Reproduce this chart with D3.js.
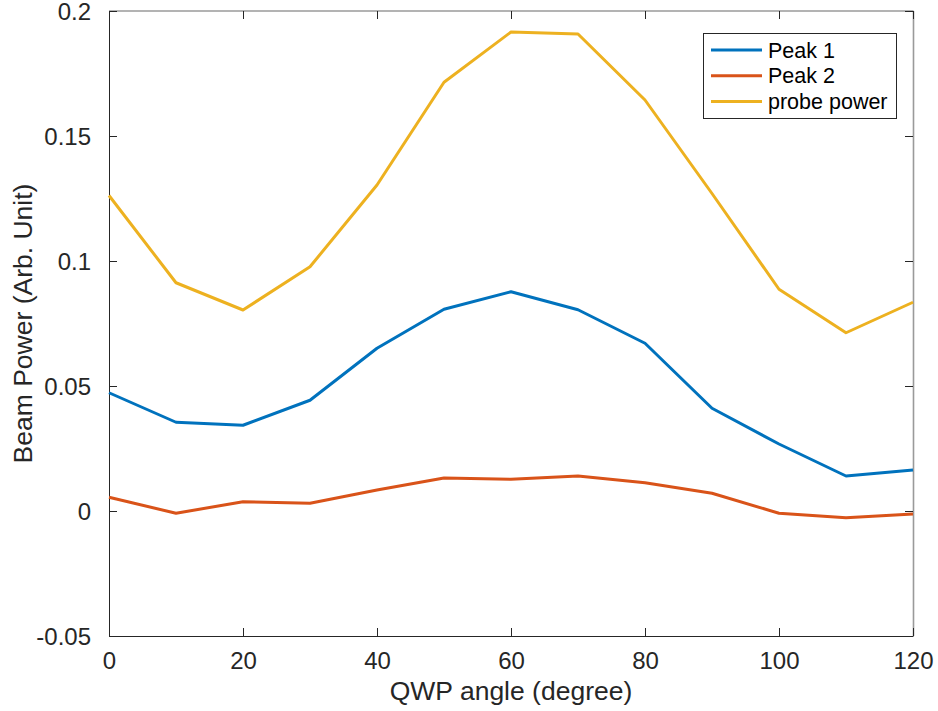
<!DOCTYPE html>
<html>
<head>
<meta charset="utf-8">
<script src="https://cdn.jsdelivr.net/npm/d3@7"></script>
<style>
  body { margin: 0; background: #fff; }
  svg { display: block; font-family: "Liberation Sans", Arial, Helvetica, sans-serif; }
</style>
</head>
<body>
<div id="chart-container"></div>
<script>
"use strict"

// QWP angle (degree)
const angles = [0, 10, 20, 30, 40, 50, 60, 70, 80, 90, 100, 110, 120];

// series values
const peak1 = [0.0473, 0.0355, 0.0343, 0.0443, 0.0651, 0.0807, 0.0877, 0.0805, 0.0671, 0.0411, 0.0268, 0.0140, 0.0164];
const peak2 = [0.0055, -0.0009, 0.0037, 0.0031, 0.0084, 0.0132, 0.0127, 0.0140, 0.0113, 0.0071, -0.0009, -0.0027, -0.0012];
const probePower = [0.1262, 0.0913, 0.0804, 0.0977, 0.1304, 0.1715, 0.1916, 0.1908, 0.1644, 0.1270, 0.0887, 0.0713, 0.0835];

const seriesNames = ["Peak 1", "Peak 2", "probe power"];
const seriesColors = ["#0072BD", "#D95319", "#EDB120"];

const xTicks = [0, 20, 40, 60, 80, 100, 120];
const yTicks = [-0.05, 0, 0.05, 0.1, 0.15, 0.2];
const yTickLabels = ["-0.05", "0", "0.05", "0.1", "0.15", "0.2"];

document.addEventListener('DOMContentLoaded', function(){
  drawChart();
});

function drawChart(){
  let svgWidth = 938;
  let svgHeight = 711;
  let left = 109, right = 913, top = 11, bottom = 636;
  let axisColor = "#262626";

  const svg = d3.select('#chart-container')
    .append('svg')
    .attr('width', svgWidth)
    .attr('height', svgHeight);

  let xScale = d3.scaleLinear()
    .domain([0, 120])
    .range([left, right]);

  let yScale = d3.scaleLinear()
    .domain([-0.05, 0.2])
    .range([bottom, top]);

  // box (top and right edges look lighter in the original)
  svg.append('line')
    .attr('x1', left).attr('x2', right + 0.5)
    .attr('y1', top).attr('y2', top)
    .attr('stroke', '#9a9a9a').attr('stroke-width', 1.3);
  svg.append('line')
    .attr('x1', right + 0.5).attr('x2', right + 0.5)
    .attr('y1', top).attr('y2', bottom)
    .attr('stroke', '#9a9a9a').attr('stroke-width', 1.6);

  // bottom axis, ticks pointing inward
  const xAxis = d3.axisBottom(xScale)
    .tickValues(xTicks)
    .tickSize(-8)
    .tickPadding(16)
    .tickSizeOuter(0);

  const gx = svg.append('g')
    .attr('transform', 'translate(0,' + bottom + ')')
    .call(xAxis);

  // top ticks (no labels)
  const gxTop = svg.append('g')
    .attr('transform', 'translate(0,' + top + ')')
    .call(d3.axisTop(xScale).tickValues(xTicks).tickSize(-8).tickSizeOuter(0).tickFormat(''));

  // left axis
  const yAxis = d3.axisLeft(yScale)
    .tickValues(yTicks)
    .tickSize(-8)
    .tickPadding(18)
    .tickSizeOuter(0)
    .tickFormat((d, i) => yTickLabels[i]);

  const gy = svg.append('g')
    .attr('transform', 'translate(' + left + ',0)')
    .call(yAxis);

  // right ticks (no labels)
  const gyRight = svg.append('g')
    .attr('transform', 'translate(' + right + ',0)')
    .call(d3.axisRight(yScale).tickValues(yTicks).tickSize(-8).tickSizeOuter(0).tickFormat(''));

  gxTop.select('.domain').remove();
  gyRight.select('.domain').remove();

  [gx, gy, gxTop, gyRight].forEach(g => {
    g.selectAll('.domain').attr('stroke', axisColor);
    g.selectAll('.tick line').attr('stroke', axisColor);
    g.selectAll('.tick text')
      .attr('fill', axisColor)
      .style('font-size', '24px')
      .style('font-family', '"Liberation Sans", Arial, sans-serif');
  });
  gx.selectAll('.tick text').attr('dy', '0.71em');
  gy.selectAll('.tick text').attr('dy', '0.35em');

  // axis labels
  svg.append('text')
    .attr('x', (left + right) / 2)
    .attr('y', 700)
    .attr('text-anchor', 'middle')
    .attr('fill', axisColor)
    .style('font-size', '26.5px')
    .text('QWP angle (degree)');

  svg.append('text')
    .attr('transform', 'translate(32,' + ((top + bottom) / 2) + ') rotate(-90)')
    .attr('text-anchor', 'middle')
    .attr('fill', axisColor)
    .style('font-size', '26.5px')
    .text('Beam Power (Arb. Unit)');

  // lines
  const allSeries = [peak1, peak2, probePower];
  const line = d3.line()
    .x((d, i) => xScale(angles[i]))
    .y(d => yScale(d));

  svg.selectAll('path.series')
    .data(allSeries)
    .enter()
    .append('path')
    .attr('class', 'series')
    .attr('d', d => line(d))
    .attr('fill', 'none')
    .attr('stroke', (d, i) => seriesColors[i])
    .attr('stroke-width', 3)
    .attr('stroke-linejoin', 'round');

  // legend
  const legend = svg.append('g');
  legend.append('rect')
    .attr('x', 703.5).attr('y', 33.5)
    .attr('width', 193).attr('height', 85)
    .attr('fill', '#fff')
    .attr('stroke', axisColor)
    .attr('stroke-width', 1);

  const rows = legend.selectAll('g.row')
    .data(seriesNames)
    .enter()
    .append('g')
    .attr('class', 'row')
    .attr('transform', (d, i) => 'translate(0,' + (50 + i * 25.8) + ')');

  rows.append('line')
    .attr('x1', 711).attr('x2', 762)
    .attr('y1', 0).attr('y2', 0)
    .attr('stroke', (d, i) => seriesColors[i])
    .attr('stroke-width', 3);

  rows.append('text')
    .attr('x', 768)
    .attr('y', 0)
    .attr('dy', '0.35em')
    .attr('fill', '#000')
    .style('font-size', '21.5px')
    .text(d => d);
}
</script>
</body>
</html>
